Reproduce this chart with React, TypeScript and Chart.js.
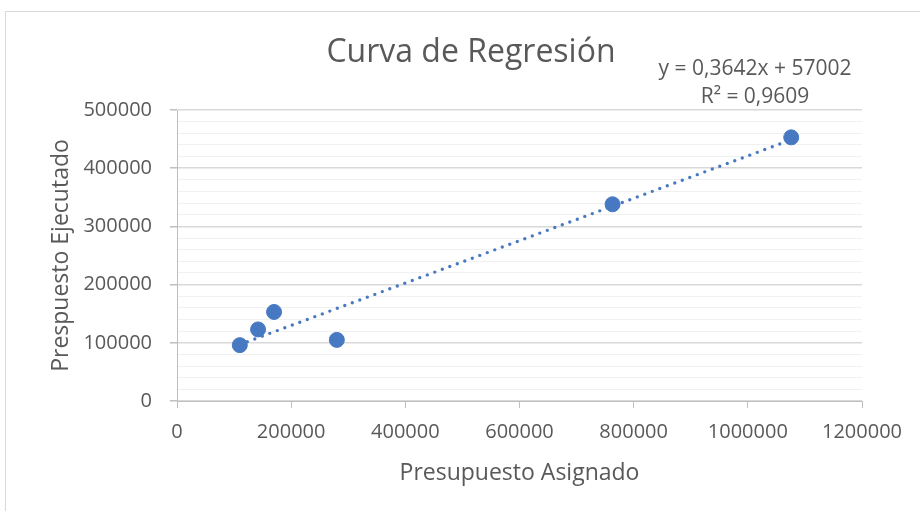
import React, { useEffect, useRef } from "react";
import { Chart, registerables } from "chart.js";

Chart.register(...registerables);

const titleText = "Curva de Regresión";
const xTitle = "Presupuesto Asignado";
const yTitle = "Prespuesto Ejecutado";
const equationLines = ["y = 0,3642x + 57002", "R² = 0,9609"];

const assigned = [110000, 142000, 170000, 280000, 763000, 1076000];
const executed = [96000, 123000, 153000, 105000, 338000, 453000];

const slope = 0.3642;
const intercept = 57002;

const FONT = "'Open Sans', sans-serif";
const TEXT = "#595959";
const BLUE = "#4779C2";

export default function App() {
  const ref = useRef<HTMLCanvasElement | null>(null);

  useEffect(() => {
    if (!ref.current) return;
    const xMin = Math.min(...assigned);
    const xMax = Math.max(...assigned);
    const trend = [
      { x: xMin, y: slope * xMin + intercept },
      { x: xMax, y: slope * xMax + intercept },
    ];
    const textPlugin = {
      id: "texts",
      afterDraw(chart: any) {
        const c = chart.ctx;
        c.save();
        c.fillStyle = TEXT;
        c.textAlign = "center";
        c.textBaseline = "alphabetic";
        c.font = `32px ${FONT}`;
        c.fillText(titleText, 471, 62);
        c.font = `21px ${FONT}`;
        c.fillText(equationLines[0], 755, 75);
        c.fillText(equationLines[1], 755, 103);
        c.restore();
      },
    };
    const chart = new Chart(ref.current, {
      type: "scatter",
      data: {
        datasets: [
          {
            type: "line",
            label: "trend",
            data: trend,
            borderColor: BLUE,
            borderWidth: 3.4,
            borderDash: [0, 8],
            borderCapStyle: "round",
            pointRadius: 0,
            fill: false,
          } as any,
          {
            label: "datos",
            data: assigned.map((x, i) => ({ x, y: executed[i] })),
            backgroundColor: BLUE,
            borderColor: BLUE,
            pointRadius: 7.5,
            pointHoverRadius: 7.5,
          },
        ],
      },
      options: {
        animation: false,
        responsive: true,
        maintainAspectRatio: false,
        layout: { padding: { left: 0, top: 110, right: 58, bottom: 0 } },
        plugins: { legend: { display: false }, tooltip: { enabled: false }, title: { display: false } },
        scales: {
          x: {
            type: "linear",
            min: 0,
            max: 1200000,
            afterFit: (s: any) => {
              s.height = 110;
            },
            border: { color: "#bfbfbf", width: 1 },
            grid: { drawOnChartArea: false, drawTicks: true, tickLength: 7, color: "#bfbfbf" },
            ticks: {
              stepSize: 200000,
              maxTicksLimit: 100,
              autoSkip: false,
              maxRotation: 0,
              padding: 12,
              color: TEXT,
              font: { family: FONT, size: 20 },
              callback: (v: any) => String(v),
            },
            title: {
              display: true,
              text: xTitle,
              color: TEXT,
              font: { family: FONT, size: 23 },
              padding: { top: 0, bottom: 24 },
            },
          },
          y: {
            type: "linear",
            min: 0,
            max: 500000,
            afterFit: (s: any) => {
              s.width = 177;
            },
            border: { color: "#bfbfbf", width: 1 },
            grid: {
              drawTicks: true,
              tickLength: 7,
              color: (ctx: any) => (ctx.tick && ctx.tick.value % 100000 === 0 ? "#d9d9d9" : "#f0f0f0"),
              tickColor: (ctx: any) => (ctx.tick && ctx.tick.value % 100000 === 0 ? "#bfbfbf" : "rgba(0,0,0,0)"),
              lineWidth: (ctx: any) => (ctx.tick && ctx.tick.value % 100000 === 0 ? 1.5 : 1),
            },
            ticks: {
              stepSize: 20000,
              maxTicksLimit: 100,
              autoSkip: false,
              padding: 18,
              color: TEXT,
              font: { family: FONT, size: 20 },
              callback: (v: any) => (v % 100000 === 0 ? String(v) : ""),
            },
            title: {
              display: true,
              text: yTitle,
              color: TEXT,
              font: { family: FONT, size: 23 },
              padding: { top: 48, bottom: 0 },
            },
          },
        },
      },
      plugins: [textPlugin],
    } as any);
    return () => chart.destroy();
  }, []);

  return (
    <div style={{ position: "fixed", left: 0, top: 0, width: 920, height: 511, overflow: "hidden", background: "#fff" }}>
      <div
        style={{
          position: "absolute",
          left: 5,
          top: 11,
          width: 940,
          height: 540,
          border: "1px solid #d9d9d9",
        }}
      />
      <div style={{ position: "absolute", left: 0, top: 0, width: 920, height: 511 }}>
        <canvas ref={ref} />
      </div>
    </div>
  );
}
